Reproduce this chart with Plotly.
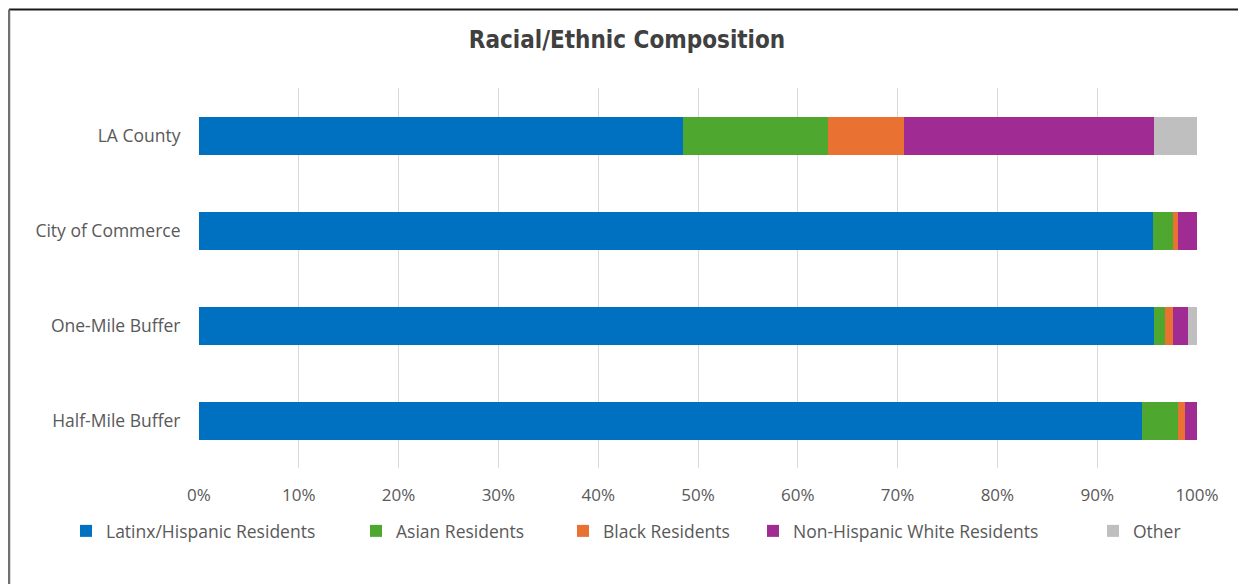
import plotly.graph_objects as go

categories = ["LA County", "City of Commerce", "One-Mile Buffer", "Half-Mile Buffer"]
series_names = ["Latinx/Hispanic Residents", "Asian Residents", "Black Residents",
                "Non-Hispanic White Residents", "Other"]
latinx = [48.5, 95.6, 95.7, 94.5]
asian = [14.5, 2.0, 1.1, 3.6]
black = [7.6, 0.5, 0.8, 0.7]
white = [25.1, 1.9, 1.5, 1.2]
other = [4.3, 0.0, 0.9, 0.0]
colors = ["#0070C0", "#4EA72E", "#E97132", "#A02B93", "#BFBFBF"]
tick_vals = [0, 10, 20, 30, 40, 50, 60, 70, 80, 90, 100]
tick_text = [f"{v}%" for v in tick_vals]

# page offset (body margin) compensation
OFF = 8
W, H = 1246 - OFF, 584 - OFF
PL, PR, PT, PB = 199, 1197, 88, 468   # plot area in page pixels
L, T = PL - OFF, PT - OFF
R = W - (PR - OFF)
B = H - (PB - OFF)

def px(x):
    return (x - PL) / (PR - PL)

def py(y):
    return (PB - y) / (PB - PT)

FONT = "Open Sans, sans-serif"
legend_marker_x = [85, 375, 582, 772, 1112]
legend_ids = ["legend", "legend2", "legend3", "legend4", "legend5"]

fig = go.Figure()
for name, vals, col, lid in zip(series_names, [latinx, asian, black, white, other],
                                colors, legend_ids):
    fig.add_trace(go.Bar(
        y=categories, x=vals, name=name, orientation="h",
        marker=dict(color=col, line=dict(width=0)),
        width=0.4, legend=lid,
    ))

layout_legends = {}
for lid, mx in zip(legend_ids, legend_marker_x):
    layout_legends[lid] = dict(
        orientation="h", x=px(mx - 19), xanchor="left",
        y=py(531), yanchor="middle",
        font=dict(family=FONT, size=17.5, color="#595959"),
        bgcolor="rgba(0,0,0,0)", itemwidth=30,
    )

fig.update_layout(
    barmode="stack",
    width=W, height=H,
    margin=dict(l=L, r=R, t=T, b=B),
    paper_bgcolor="white", plot_bgcolor="white",
    title=dict(text="<b>Racial/Ethnic Composition</b>", x=px(627), xref="paper",
               xanchor="center", y=1 - (40 - OFF) / H, yanchor="middle",
               font=dict(family="DejaVu Sans Condensed, Liberation Sans Narrow, sans-serif",
                         size=24, color="#404040")),
    xaxis=dict(range=[0, 100], tickvals=tick_vals, ticktext=tick_text,
               showgrid=True, gridcolor="#D9D9D9", gridwidth=1,
               zeroline=False, showline=False, ticks="outside", ticklen=12,
               tickcolor="rgba(0,0,0,0)",
               tickfont=dict(family=FONT, size=17, color="#595959"),
               fixedrange=True),
    yaxis=dict(categoryorder="array", categoryarray=categories,
               showgrid=False, zeroline=False, showline=False, ticks="outside",
               ticklen=14, tickcolor="rgba(0,0,0,0)",
               tickfont=dict(family=FONT, size=17.5, color="#595959"),
               range=[3.5, -0.5]),
    showlegend=True,
    shapes=[
        dict(type="line", xref="paper", yref="paper", x0=px(9), x1=px(1246),
             y0=py(9.5), y1=py(9.5), line=dict(color="#1A1A1A", width=2)),
        dict(type="line", xref="paper", yref="paper", x0=px(9), x1=px(9),
             y0=py(9.5), y1=py(584), line=dict(color="#707070", width=2.5)),
        dict(type="line", xref="paper", yref="paper", x0=px(1242), x1=px(1242),
             y0=py(12), y1=py(584), line=dict(color="#EEEEEE", width=1)),
    ],
    **layout_legends,
)

fig.write_html("out.html")
